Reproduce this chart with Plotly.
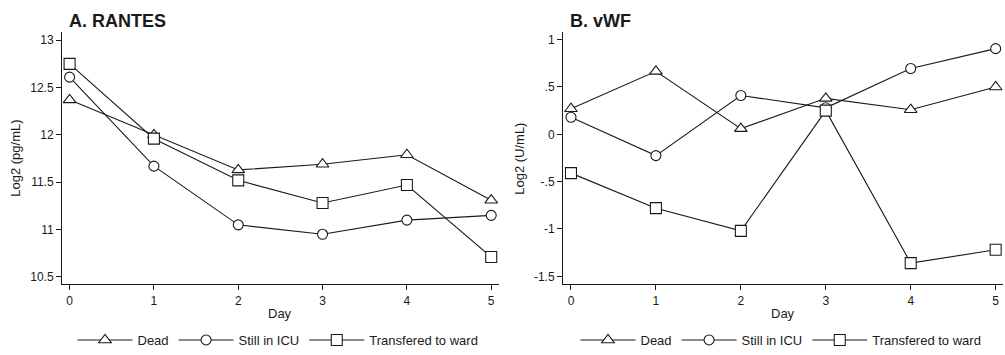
import plotly.graph_objects as go

# Study days
days = [0, 1, 2, 3, 4, 5]

# A. RANTES, log2 (pg/mL)
rantes_dead = [12.37, 12.00, 11.63, 11.69, 11.79, 11.31]
rantes_icu = [12.61, 11.67, 11.05, 10.95, 11.10, 11.15]
rantes_ward = [12.75, 11.96, 11.52, 11.28, 11.47, 10.71]

# B. vWF, log2 (U/mL)
vwf_dead = [0.27, 0.665, 0.06, 0.38, 0.26, 0.50]
vwf_icu = [0.18, -0.225, 0.41, 0.28, 0.695, 0.905]
vwf_ward = [-0.41, -0.78, -1.02, 0.25, -1.36, -1.22]

group_names = ["Dead", "Still in ICU", "Transfered to ward"]
group_symbols = ["triangle-up", "circle", "square"]
group_sizes = [11, 10, 11]

rantes_ticks = [10.5, 11, 11.5, 12, 12.5, 13]
rantes_ticktext = ["10.5", "11", "11.5", "12", "12.5", "13"]
vwf_ticks = [-1.5, -1, -0.5, 0, 0.5, 1]
vwf_ticktext = ["-1.5", "-1", "-.5", "0", ".5", "1"]

FONT = "Liberation Sans, Arial, Helvetica, sans-serif"
INK = "#1a1a1a"

fig = go.Figure()

panels = [
    ("x", "y", "legend", [rantes_dead, rantes_icu, rantes_ward]),
    ("x2", "y2", "legend2", [vwf_dead, vwf_icu, vwf_ward]),
]
for xa, ya, leg, series in panels:
    for name, sym, size, vals in zip(group_names, group_symbols, group_sizes, series):
        fig.add_trace(go.Scatter(
            x=days, y=vals, name=name, mode="lines+markers",
            xaxis=xa, yaxis=ya, legend=leg,
            line=dict(color=INK, width=1.1),
            marker=dict(symbol=sym, size=size, color="white",
                        line=dict(color=INK, width=1.1)),
        ))

axis_common = dict(
    showline=True, linecolor=INK, linewidth=1,
    ticks="outside", ticklen=5, tickwidth=1, tickcolor=INK,
    showgrid=False, zeroline=False, mirror=False,
    tickfont=dict(family=FONT, size=12, color=INK),
)

y_dom = [1 - 290 / 355, 1 - 33 / 355]

legend_common = dict(
    orientation="h", y=1 - 347 / 355, yanchor="middle", xanchor="center",
    font=dict(family=FONT, size=13, color=INK),
    bgcolor="rgba(0,0,0,0)", tracegroupgap=0, itemwidth=55,
)

fig.update_layout(
    width=1005, height=355,
    margin=dict(l=0, r=0, t=0, b=0),
    paper_bgcolor="white", plot_bgcolor="white",
    font=dict(family=FONT, size=13, color=INK),
    xaxis=dict(domain=[62 / 1005, 498.8 / 1005], range=[-0.09, 5.09],
               tickvals=days, anchor="y", **axis_common),
    yaxis=dict(domain=y_dom, range=[10.422, 13.083], tickvals=rantes_ticks,
               ticktext=rantes_ticktext, anchor="x", **axis_common),
    xaxis2=dict(domain=[563 / 1005, 1003.3 / 1005], range=[-0.094, 5.09],
                tickvals=days, anchor="y2", **axis_common),
    yaxis2=dict(domain=y_dom, range=[-1.584, 1.077], tickvals=vwf_ticks,
                ticktext=vwf_ticktext, anchor="x2", **axis_common),
    legend=dict(x=278 / 1005, **legend_common),
    legend2=dict(x=781 / 1005, **legend_common),
)

annotations = [
    dict(text="<b>A. RANTES</b>", x=67 / 1005, y=1 - 21 / 355, xanchor="left",
         yanchor="middle", font=dict(size=18)),
    dict(text="<b>B. vWF</b>", x=568 / 1005, y=1 - 21 / 355, xanchor="left",
         yanchor="middle", font=dict(size=18)),
    dict(text="Log2 (pg/mL)", x=16 / 1005, y=1 - 162 / 355, textangle=-90,
         xanchor="center", yanchor="middle", font=dict(size=13)),
    dict(text="Log2 (U/mL)", x=520 / 1005, y=1 - 162 / 355, textangle=-90,
         xanchor="center", yanchor="middle", font=dict(size=13)),
    dict(text="Day", x=280 / 1005, y=1 - 320 / 355, xanchor="center",
         yanchor="middle", font=dict(size=13)),
    dict(text="Day", x=783 / 1005, y=1 - 320 / 355, xanchor="center",
         yanchor="middle", font=dict(size=13)),
]
for a in annotations:
    a.update(xref="paper", yref="paper", showarrow=False)
    a["font"] = dict(family=FONT, color=INK, **a["font"])
fig.update_layout(annotations=annotations)

fig.write_html("out.html")
